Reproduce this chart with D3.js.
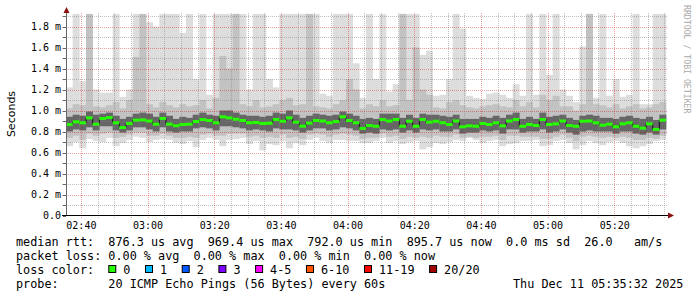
<!DOCTYPE html>
<html>
<head>
<meta charset="utf-8">
<script src="https://cdn.jsdelivr.net/npm/d3@7"></script>
<style>
body { margin: 0; background: #fff; }
svg text { font-family: "DejaVu Sans Mono", monospace; }
</style>
</head>
<body>
<svg id="svg-smoke"></svg>
<script>
// 时间范围 (3 小时, 每列 2 分钟)
var startTime = new Date(2025, 11, 11, 2, 35, 32)
var stepMinutes = 2

// 中位数 rtt (ms)
var medianRtt = [
    0.867, 0.892, 0.883, 0.930, 0.870, 0.924, 0.933, 0.883, 0.838, 0.876, 0.908, 0.911, 0.900, 0.870, 0.924,
    0.870, 0.855, 0.867, 0.870, 0.895, 0.914, 0.905, 0.883, 0.940, 0.930, 0.917, 0.905, 0.883, 0.886, 0.876,
    0.879, 0.914, 0.898, 0.930, 0.889, 0.851, 0.880, 0.905, 0.900, 0.883, 0.895, 0.940, 0.905, 0.883, 0.830,
    0.857, 0.850, 0.914, 0.900, 0.914, 0.850, 0.898, 0.850, 0.914, 0.889, 0.898, 0.883, 0.867, 0.900, 0.845,
    0.854, 0.850, 0.876, 0.867, 0.883, 0.854, 0.900, 0.914, 0.850, 0.867, 0.857, 0.914, 0.867, 0.873, 0.900,
    0.857, 0.850, 0.898, 0.900, 0.883, 0.860, 0.870, 0.845, 0.873, 0.883, 0.850, 0.832, 0.873, 0.820, 0.908
]
// 烟雾: 最大 ping
var pingMax = [
    1.22, 1.92, 1.28, 1.92, 1.20, 1.17, 1.17, 1.92, 1.13, 1.20, 1.92, 1.92, 1.84, 1.80, 1.92,
    1.92, 1.92, 1.74, 1.92, 1.30, 1.92, 1.15, 1.92, 1.92, 1.92, 1.92, 1.92, 1.20, 1.92, 1.92,
    1.30, 1.22, 1.92, 1.92, 1.92, 1.92, 1.92, 1.92, 1.16, 1.14, 1.92, 1.92, 1.92, 1.45, 1.12,
    1.92, 1.30, 1.92, 1.18, 1.25, 1.92, 1.92, 1.92, 1.53, 1.57, 1.14, 1.15, 1.30, 1.92, 1.78,
    1.14, 1.12, 1.11, 1.16, 1.17, 1.15, 1.12, 1.25, 1.14, 1.92, 1.15, 1.92, 1.34, 1.92, 1.20,
    1.14, 1.08, 1.61, 1.92, 1.12, 1.92, 1.14, 1.30, 1.13, 1.15, 1.92, 1.06, 1.06, 1.92, 1.92
]
// 烟雾: 第二层上沿
var pingHi2 = [
    1.02, 1.06, 1.05, 1.92, 1.04, 1.03, 1.05, 1.08, 1.02, 1.10, 1.51, 1.92, 1.06, 1.03, 1.08,
    1.05, 1.03, 1.06, 1.04, 1.05, 1.10, 1.02, 1.12, 1.52, 1.40, 1.92, 1.06, 1.04, 1.10, 1.03,
    1.04, 1.06, 1.10, 1.12, 1.05, 1.06, 1.92, 1.04, 1.03, 1.02, 1.06, 1.10, 1.30, 1.20, 1.02,
    1.06, 1.04, 1.10, 1.04, 1.05, 1.92, 1.10, 1.60, 1.20, 1.15, 1.03, 1.02, 1.08, 1.10, 1.05,
    1.03, 1.02, 1.04, 1.05, 1.06, 1.04, 1.03, 1.10, 1.04, 1.08, 1.03, 1.15, 1.10, 1.14, 1.04,
    1.04, 1.00, 1.06, 1.92, 1.06, 1.05, 1.03, 1.06, 1.02, 1.04, 1.06, 1.02, 1.03, 1.06, 1.08
]
// 烟雾: 核心上沿
var pingHi3 = [
    0.94, 0.96, 0.95, 0.99, 0.96, 0.97, 0.98, 0.95, 0.92, 0.94, 0.97, 0.98, 0.97, 0.94, 0.98,
    0.95, 0.92, 0.94, 0.93, 0.96, 0.98, 0.96, 0.95, 1.00, 1.00, 0.98, 0.96, 0.95, 0.95, 0.94,
    0.95, 0.98, 0.97, 1.00, 0.96, 0.93, 0.95, 0.97, 0.96, 0.95, 0.96, 0.99, 0.97, 0.95, 0.92,
    0.93, 0.92, 0.97, 0.97, 0.97, 0.93, 0.96, 0.93, 0.97, 0.96, 0.96, 0.95, 0.94, 0.96, 0.92,
    0.92, 0.92, 0.94, 0.93, 0.95, 0.93, 0.96, 0.98, 0.92, 0.94, 0.92, 0.98, 0.94, 0.95, 0.96,
    0.93, 0.91, 0.95, 0.96, 0.95, 0.93, 0.93, 0.92, 0.94, 0.95, 0.93, 0.92, 0.94, 0.91, 0.96
]
// 烟雾: 核心下沿
var pingLo3 = [
    0.80, 0.82, 0.81, 0.84, 0.81, 0.85, 0.85, 0.81, 0.79, 0.81, 0.84, 0.84, 0.82, 0.80, 0.84,
    0.80, 0.79, 0.80, 0.80, 0.83, 0.84, 0.83, 0.81, 0.85, 0.85, 0.84, 0.83, 0.81, 0.82, 0.81,
    0.80, 0.83, 0.82, 0.82, 0.81, 0.79, 0.81, 0.83, 0.83, 0.81, 0.82, 0.84, 0.83, 0.81, 0.78,
    0.79, 0.78, 0.82, 0.81, 0.82, 0.79, 0.81, 0.79, 0.82, 0.81, 0.82, 0.80, 0.80, 0.82, 0.78,
    0.79, 0.79, 0.81, 0.80, 0.81, 0.78, 0.82, 0.82, 0.79, 0.80, 0.80, 0.82, 0.79, 0.80, 0.82,
    0.79, 0.77, 0.80, 0.81, 0.80, 0.80, 0.80, 0.78, 0.80, 0.80, 0.78, 0.77, 0.79, 0.77, 0.82
]
// 烟雾: 第二层下沿
var pingLo2 = [
    0.74, 0.76, 0.72, 0.78, 0.76, 0.78, 0.79, 0.74, 0.75, 0.77, 0.79, 0.79, 0.76, 0.76, 0.78,
    0.76, 0.74, 0.74, 0.75, 0.74, 0.77, 0.78, 0.76, 0.76, 0.78, 0.78, 0.78, 0.75, 0.76, 0.74,
    0.75, 0.74, 0.77, 0.74, 0.75, 0.73, 0.77, 0.78, 0.77, 0.75, 0.77, 0.78, 0.77, 0.76, 0.73,
    0.74, 0.74, 0.78, 0.75, 0.76, 0.73, 0.75, 0.74, 0.75, 0.74, 0.76, 0.75, 0.75, 0.77, 0.74,
    0.75, 0.74, 0.75, 0.75, 0.76, 0.72, 0.76, 0.76, 0.75, 0.75, 0.75, 0.73, 0.73, 0.75, 0.77,
    0.74, 0.71, 0.75, 0.76, 0.75, 0.74, 0.75, 0.74, 0.75, 0.74, 0.72, 0.72, 0.74, 0.73, 0.76
]
// 烟雾: 最小 ping
var pingMin = [
    0.66, 0.70, 0.64, 0.73, 0.71, 0.70, 0.74, 0.66, 0.69, 0.72, 0.75, 0.74, 0.70, 0.72, 0.73,
    0.72, 0.69, 0.68, 0.71, 0.65, 0.72, 0.74, 0.72, 0.66, 0.72, 0.73, 0.74, 0.68, 0.71, 0.62,
    0.68, 0.67, 0.71, 0.64, 0.69, 0.67, 0.72, 0.74, 0.71, 0.69, 0.72, 0.72, 0.71, 0.71, 0.69,
    0.69, 0.71, 0.74, 0.69, 0.71, 0.68, 0.70, 0.71, 0.63, 0.65, 0.69, 0.68, 0.70, 0.72, 0.71,
    0.74, 0.72, 0.69, 0.71, 0.72, 0.66, 0.68, 0.69, 0.71, 0.71, 0.72, 0.66, 0.67, 0.71, 0.72,
    0.69, 0.63, 0.67, 0.71, 0.69, 0.67, 0.70, 0.71, 0.69, 0.66, 0.64, 0.66, 0.68, 0.71, 0.72
]

// 图例
var legendRows = [
    "median rtt:  876.3 us avg  969.4 us max  792.0 us min  895.7 us now  0.0 ms sd  26.0   am/s",
    "packet loss: 0.00 % avg  0.00 % max  0.00 % min  0.00 % now",
    "loss color:",
    "probe:       20 ICMP Echo Pings (56 Bytes) every 60s"
]
var lossLabels = ["0", "1", "2", "3", "4-5", "6-10", "11-19", "20/20"]
var lossColors = ["#26ff00", "#00b8ff", "#0059ff", "#7e00ff", "#ff00ff", "#ff5500", "#ff0000", "#a10000"]
var dateText = "Thu Dec 11 05:35:32 2025"

var width = 697,
    height = 297
var svg = d3.select("#svg-smoke")
    .attr("width", width)
    .attr("height", height)

var endTime = d3.timeMinute.offset(startTime, medianRtt.length * stepMinutes)
var x = d3.scaleTime().domain([startTime, endTime]).range([66, 666])
var y = d3.scaleLinear().domain([0, 1.924]).range([215.5, 13.5])

var cols = medianRtt.map(function (m, i) {
    return {
        t0: d3.timeMinute.offset(startTime, i * stepMinutes),
        t1: d3.timeMinute.offset(startTime, (i + 1) * stepMinutes),
        med: m,
        max: pingMax[i], hi2: pingHi2[i], hi3: pingHi3[i],
        lo3: pingLo3[i], lo2: pingLo2[i], min: pingMin[i]
    }
})

// 烟雾层
var bands = [
    ["max", "min", "#dddddd"],
    ["hi2", "lo2", "#c2c2c2"],
    ["hi3", "lo3", "#666666"]
]
var smoke = svg.append("g").attr("id", "smoke")
bands.forEach(function (b) {
    smoke.append("g")
        .selectAll("rect")
        .data(cols)
        .enter().append("rect")
        .attr("x", function (d) { return x(d.t0) })
        .attr("width", function (d) { return x(d.t1) - x(d.t0) + 0.3 })
        .attr("y", function (d) { return y(d[b[0]]) })
        .attr("height", function (d) { return y(d[b[1]]) - y(d[b[0]]) })
        .attr("fill", b[2])
})

// 网格
var grid = svg.append("g").attr("id", "grid")
var yMinor = d3.range(1, 20).map(function (k) { return k / 10 })
grid.selectAll("line.h")
    .data(yMinor)
    .enter().append("line")
    .attr("x1", 62).attr("x2", 668)
    .attr("y1", function (d) { return Math.round(y(d)) + 0.5 })
    .attr("y2", function (d) { return Math.round(y(d)) + 0.5 })
    .attr("stroke", function (d, i) { return (i % 2 == 1) ? "rgba(220,0,0,0.38)" : "rgba(128,128,128,0.5)" })
    .attr("stroke-dasharray", "1,1")
var xTicks = d3.timeMinute.every(5).range(startTime, endTime)
grid.selectAll("line.v")
    .data(xTicks)
    .enter().append("line")
    .attr("x1", function (d) { return Math.round(x(d)) + 0.5 })
    .attr("x2", function (d) { return Math.round(x(d)) + 0.5 })
    .attr("y1", 13).attr("y2", 219)
    .attr("stroke", function (d) { return d.getMinutes() % 20 == 0 ? "rgba(220,0,0,0.38)" : "rgba(128,128,128,0.5)" })
    .attr("stroke-dasharray", "1,1")

// 中位数: 黑色阶梯线 + 绿色丢包色条
var stepPts = cols.map(function (d) { return [d.t0, d.med] })
stepPts.push([endTime, cols[cols.length - 1].med])
svg.append("path")
    .attr("d", d3.line()
        .x(function (d) { return x(d[0]) })
        .y(function (d) { return y(d[1]) })
        .curve(d3.curveStepAfter)(stepPts))
    .attr("fill", "none")
    .attr("stroke", "#111")
    .attr("stroke-width", 1)
svg.append("g")
    .selectAll("rect")
    .data(cols)
    .enter().append("rect")
    .attr("x", function (d) { return x(d.t0) })
    .attr("width", function (d) { return x(d.t1) - x(d.t0) })
    .attr("y", function (d) { return y(d.med) - 1.5 })
    .attr("height", 3)
    .attr("fill", lossColors[0])

// 坐标轴
svg.append("line")
    .attr("x1", 66.5).attr("x2", 66.5).attr("y1", 216).attr("y2", 12)
    .attr("stroke", "#666")
svg.append("path")
    .attr("d", "M63.5,13L66.5,7L69.5,13Z")
    .attr("fill", "#8b1010")
svg.append("line")
    .attr("x1", 62).attr("x2", 669).attr("y1", 215.5).attr("y2", 215.5)
    .attr("stroke", "#000")
svg.append("path")
    .attr("d", "M668,212.5L674,215.5L668,218.5Z")
    .attr("fill", "#8b1010")

// y 轴标签
var yTicks = d3.range(0, 10).map(function (k) { return k * 0.2 })
svg.append("g")
    .selectAll("text")
    .data(yTicks)
    .enter().append("text")
    .attr("x", 61)
    .attr("y", function (d) { return y(d) })
    .attr("dy", "0.36em")
    .attr("text-anchor", "end")
    .style("font-size", "10px")
    .style("white-space", "pre")
    .text(function (d) { return d == 0 ? "0.0" : d.toFixed(1) + " m" })
svg.append("g")
    .selectAll("line")
    .data(yMinor.concat([0]))
    .enter().append("line")
    .attr("x1", 63).attr("x2", 66)
    .attr("y1", function (d) { return Math.round(y(d)) + 0.5 })
    .attr("y2", function (d) { return Math.round(y(d)) + 0.5 })
    .attr("stroke", "#666")

// x 轴标签
svg.append("g")
    .selectAll("text")
    .data(xTicks.filter(function (d) { return d.getMinutes() % 20 == 0 }))
    .enter().append("text")
    .attr("x", function (d) { return x(d) + 0.5 })
    .attr("y", 228.5)
    .attr("text-anchor", "middle")
    .style("font-size", "10px")
    .text(d3.timeFormat("%H:%M"))

svg.append("text")
    .attr("transform", "translate(15,114) rotate(-90)")
    .attr("text-anchor", "middle")
    .style("font-family", "'DejaVu Sans', sans-serif")
    .style("font-size", "11px")
    .text("Seconds")

svg.append("text")
    .attr("transform", "translate(684,5) rotate(90)")
    .attr("fill", "#aaa")
    .style("font-size", "8.2px")
    .text("RRDTOOL / TOBI OETIKER")

// 图例
var cw = 7.1
var legend = svg.append("g").style("font-size", "11.8px")
legend.selectAll("text")
    .data(legendRows)
    .enter().append("text")
    .attr("x", 16)
    .attr("y", function (d, i) { return 245.5 + i * 14 })
    .style("white-space", "pre")
    .text(function (d) { return d })
legend.append("text")
    .attr("x", 16 + 70 * cw)
    .attr("y", 245.5 + 3 * 14)
    .text(dateText)
var bx = 16 + 13 * cw
lossLabels.forEach(function (l, i) {
    legend.append("rect")
        .attr("x", bx + 0.5).attr("y", 265.5)
        .attr("width", 7).attr("height", 7)
        .attr("fill", lossColors[i])
        .attr("stroke", "#000")
    legend.append("text")
        .attr("x", bx + 15)
        .attr("y", 273.5)
        .text(l)
    bx += 29.6 + l.length * cw
})
</script>
</body>
</html>
